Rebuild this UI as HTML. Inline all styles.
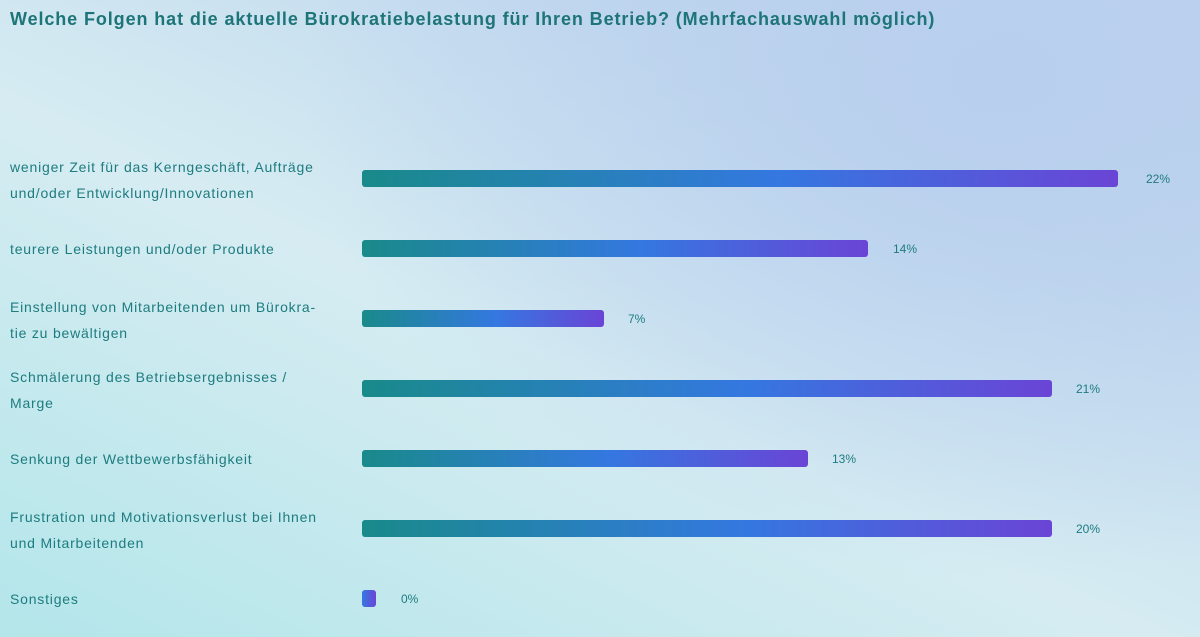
<!DOCTYPE html>
<html><head><meta charset="utf-8"><style>
html,body{margin:0;padding:0}
body{width:1200px;height:637px;overflow:hidden;position:relative;font-family:"Liberation Sans",sans-serif;color:#1d7c80;
background:radial-gradient(ellipse 700px 500px at 1000px 80px,#b8cfee 0%,rgba(184,207,238,0) 100%),linear-gradient(25deg,#b3e6ea 0%,#d6ecf2 45%,#c3daef 75%,#bdd2ee 100%);}
h1{position:absolute;left:10px;top:9px;margin:0;font-size:18px;font-weight:bold;color:#1d7578;letter-spacing:0.9px;white-space:nowrap}
.l{position:absolute;left:10px;font-size:14px;line-height:26px;letter-spacing:0.8px;white-space:nowrap}
.b{position:absolute;left:362px;height:17px;border-radius:3px;background:linear-gradient(90deg,#198a8a 0%,#3478e0 55%,#6a44d6 100%)}
.v{position:absolute;font-size:12px}
</style></head><body>
<h1>Welche Folgen hat die aktuelle Bürokratiebelastung für Ihren Betrieb? (Mehrfachauswahl möglich)</h1>
<div class="l" style="top:154px">weniger Zeit für das Kerngeschäft, Aufträge<br>und/oder Entwicklung/Innovationen</div>
<div class="l" style="top:236px">teurere Leistungen und/oder Produkte</div>
<div class="l" style="top:294px">Einstellung von Mitarbeitenden um Bürokra-<br>tie zu bewältigen</div>
<div class="l" style="top:364px">Schmälerung des Betriebsergebnisses /<br>Marge</div>
<div class="l" style="top:446px">Senkung der Wettbewerbsfähigkeit</div>
<div class="l" style="top:504px">Frustration und Motivationsverlust bei Ihnen<br>und Mitarbeitenden</div>
<div class="l" style="top:586px">Sonstiges</div>
<div class="b" style="top:170px;width:756px"></div><div class="v" style="left:1146px;top:172px">22%</div>
<div class="b" style="top:240px;width:506px"></div><div class="v" style="left:893px;top:242px">14%</div>
<div class="b" style="top:310px;width:242px"></div><div class="v" style="left:628px;top:312px">7%</div>
<div class="b" style="top:380px;width:690px"></div><div class="v" style="left:1076px;top:382px">21%</div>
<div class="b" style="top:450px;width:446px"></div><div class="v" style="left:832px;top:452px">13%</div>
<div class="b" style="top:520px;width:690px"></div><div class="v" style="left:1076px;top:522px">20%</div>
<div class="b" style="top:590px;width:14px;background:linear-gradient(90deg,#3478e0,#6a44d6)"></div><div class="v" style="left:401px;top:592px">0%</div>
</body></html>
